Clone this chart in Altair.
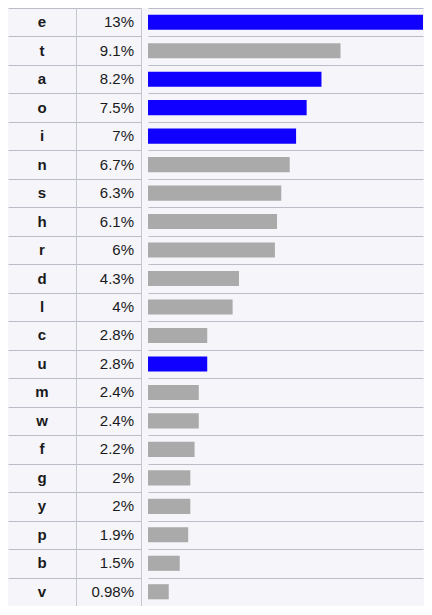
import altair as alt
import pandas as pd

letters = ["e", "t", "a", "o", "i", "n", "s", "h", "r", "d", "l", "c", "u", "m", "w", "f", "g", "y", "p", "b", "v"]
freqs = [13, 9.1, 8.2, 7.5, 7, 6.7, 6.3, 6.1, 6, 4.3, 4, 2.8, 2.8, 2.4, 2.4, 2.2, 2, 2, 1.9, 1.5, 0.98]
labels = ["13%", "9.1%", "8.2%", "7.5%", "7%", "6.7%", "6.3%", "6.1%", "6%", "4.3%", "4%", "2.8%", "2.8%",
          "2.4%", "2.4%", "2.2%", "2%", "2%", "1.9%", "1.5%", "0.98%"]
vowels = ["e", "a", "o", "i", "u"]

df = pd.DataFrame({
    "letter": letters,
    "freq": freqs,
    "label": labels,
    "kind": ["vowel" if l in vowels else "consonant" for l in letters],
})

H = 598
GRID = "#babdc8"
VLINE = "#c6c8d1"
FONT = "Liberation Sans"

def yenc(domain_color):
    return alt.Y(
        "letter:N",
        sort=letters,
        scale=alt.Scale(paddingInner=0, paddingOuter=0),
        axis=alt.Axis(
            labels=False, ticks=False, title=None,
            grid=True, gridColor=GRID, gridWidth=1, tickBand="extent",
            domain=True, domainColor=domain_color, domainWidth=1,
            minExtent=0, maxExtent=0, offset=0, orient="left",
        ),
    )

letter_col = alt.Chart(df).mark_text(
    font=FONT, fontSize=15, fontWeight="bold", color="#1a1a1a"
).encode(
    y=yenc("transparent"),
    text="letter:N",
).properties(width=68, height=H)

pct_col = alt.Chart(df).mark_text(
    font=FONT, fontSize=15, color="#1a1a1a", align="right"
).encode(
    y=yenc(VLINE),
    x=alt.value(58),
    text="label:N",
).properties(width=65, height=H)

bar_col = alt.Chart(df).mark_bar(height=alt.RelativeBandSize(0.53)).encode(
    y=yenc(VLINE),
    x=alt.X("freq:Q", scale=alt.Scale(domain=[0, 13], range=[7, 282]), axis=None),
    color=alt.Color("kind:N", scale=alt.Scale(domain=["vowel", "consonant"], range=["#1000ff", "#aaaaaa"]), legend=None),
).properties(width=283, height=H)

chart = alt.hconcat(letter_col, pct_col, bar_col, spacing=0).properties(
    padding=0, background="#f5f5fa"
).configure_view(stroke="transparent", strokeWidth=0).configure_concat(spacing=0)

chart.save("out.html", embed_options={"renderer": "svg", "actions": False})
